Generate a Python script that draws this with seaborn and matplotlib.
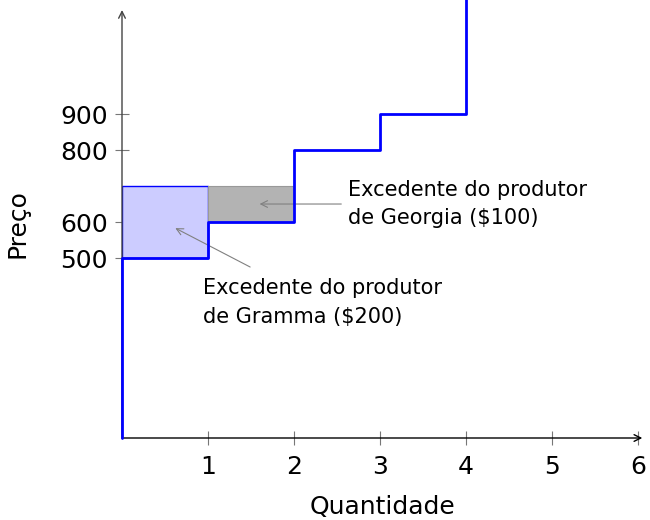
import matplotlib
matplotlib.use('Agg')
import matplotlib.pyplot as plt
import seaborn as sns
import numpy as np

sns.set_theme(style='white')
plt.rcParams['font.family'] = ['DejaVu Sans']
plt.rcParams['text.color'] = 'black'
plt.rcParams['axes.labelcolor'] = 'black'
plt.rcParams['xtick.labelcolor'] = 'black'
plt.rcParams['ytick.labelcolor'] = 'black'

# dados da curva de oferta (degraus)
quantidades = [0, 1, 2, 3, 4]
precos = [500, 600, 800, 900, 1300]
preco_mercado = 700
x_ticks = [1, 2, 3, 4, 5, 6]
y_ticks = [500, 600, 800, 900]

# caminho em degraus: sobe na vertical, depois anda na horizontal
xs, ys = [0], [0]
for q, p in zip(quantidades, precos):
    xs += [q, q]
    ys += [ys[-1], p]
    xs.append(q + 1 if q < quantidades[-1] else q)
    ys.append(p)
xs, ys = xs[1:-1], ys[1:-1]
xs = [0] + xs
ys = [0] + ys

fig = plt.figure(figsize=(6.5, 5.2), dpi=100)
ax = fig.add_axes([122/650, 82/520, 6.05*86/650, 428/520])

# excedentes
ax.fill_between([0, 1], precos[0], preco_mercado, color='#ccccff',
                edgecolor='blue', lw=1, zorder=2)
ax.fill_between([1, 2], precos[1], preco_mercado, color='#b3b3b3',
                edgecolor='#999999', lw=0.8, zorder=2)

sns.lineplot(x=xs, y=ys, estimator=None, sort=False, color='blue', lw=2,
             ax=ax, zorder=4, clip_on=False)

ax.set_xlim(0, 6.05)
ax.set_ylim(0, 1189)
for s in ax.spines.values():
    s.set_visible(False)

# eixos com setas
ax.annotate('', xy=(1.0, 0), xytext=(0, 0), xycoords='axes fraction',
            arrowprops=dict(arrowstyle='->', color='black', lw=1, shrinkA=0, shrinkB=0), zorder=3)
ax.annotate('', xy=(0, 1.0), xytext=(0, 0), xycoords='axes fraction',
            arrowprops=dict(arrowstyle='->', color='#444444', lw=1, shrinkA=0, shrinkB=0), zorder=3)

ax.set_xticks(x_ticks)
ax.set_yticks(y_ticks)
ax.tick_params(direction='inout', length=10, width=0.8, color='#777777',
               labelsize=18, left=True, bottom=True)
ax.tick_params(axis='x', pad=7)
ax.tick_params(axis='y', pad=5)
ax.set_xlabel('Quantidade', fontsize=18, labelpad=12)
ax.set_ylabel('Preço', fontsize=18, labelpad=22)
ax.grid(False)

seta = dict(arrowstyle='->', color='#808080', lw=0.8, shrinkA=0, shrinkB=0)
ax.text(2.63, 650, 'Excedente do produtor\nde Georgia ($100)', ha='left',
        va='center', fontsize=15, linespacing=1.55)
ax.annotate('', xy=(1.6, 650), xytext=(2.55, 650), arrowprops=seta)
ax.text(0.94, 376, 'Excedente do produtor\nde Gramma ($200)', ha='left',
        va='center', fontsize=15, linespacing=1.6)
ax.annotate('', xy=(0.62, 583), xytext=(1.49, 475), arrowprops=seta)

fig.savefig('out.png', dpi=100)
